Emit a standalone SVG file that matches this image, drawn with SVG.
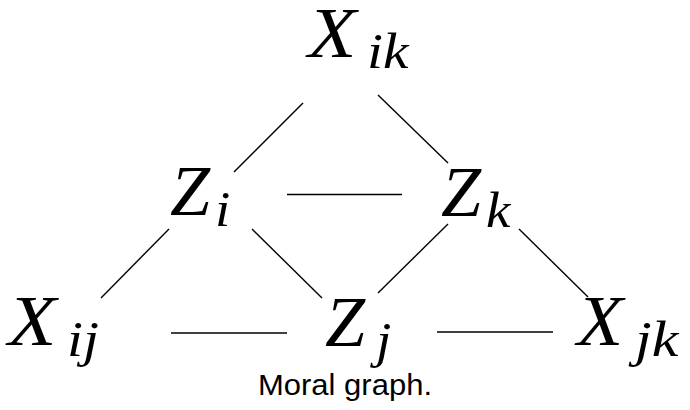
<svg xmlns="http://www.w3.org/2000/svg" width="690" height="410" viewBox="0 0 690 410">
<style>
.m{font-family:"Liberation Serif","Times New Roman",serif;font-style:italic;font-size:72px;fill:#000}
.s{font-family:"Liberation Serif","Times New Roman",serif;font-style:italic;font-size:50px;fill:#000}
.e{stroke:#000;stroke-width:1.4;fill:none}
.c{font-family:"Liberation Sans",Arial,sans-serif;font-size:29px;fill:#000}
</style>
<rect width="690" height="410" fill="#fff"/>
<g id="edges">
<line class="e" x1="303" y1="103" x2="234" y2="172"/>
<line class="e" x1="378" y1="95" x2="448" y2="163"/>
<line class="e" x1="287" y1="194.5" x2="402" y2="194.5"/>
<line class="e" x1="169" y1="229" x2="101" y2="298"/>
<line class="e" x1="252" y1="229" x2="322" y2="298"/>
<line class="e" x1="448" y1="224" x2="378" y2="293"/>
<line class="e" x1="519" y1="229" x2="588" y2="297"/>
<line class="e" x1="171" y1="333" x2="287" y2="333"/>
<line class="e" x1="437" y1="332" x2="553" y2="332"/>
</g>
<g id="Xik">
<text class="m" transform="translate(308,57) scale(1.1,1)">X</text>
<text class="s" transform="translate(367,68) scale(1.15,1)">ik</text>
</g>
<g id="Zi">
<text class="m" x="170" y="215">Z</text>
<text class="s" transform="translate(215,226) scale(1.1,1)">i</text>
</g>
<g id="Zk">
<text class="m" x="441" y="216">Z</text>
<text class="s" transform="translate(486,227) scale(1.1,1)">k</text>
</g>
<g id="Xij">
<text class="m" transform="translate(8,345) scale(1.1,1)">X</text>
<text class="s" transform="translate(67,356) scale(1.15,1)">ij</text>
</g>
<g id="Zj">
<text class="m" x="325" y="346">Z</text>
<text class="s" transform="translate(376,357) scale(1.1,1)">j</text>
</g>
<g id="Xjk">
<text class="m" transform="translate(577,345) scale(1.05,1)">X</text>
<text class="s" transform="translate(635,356) scale(1.2,1)">jk</text>
</g>
<text class="c" x="345" y="395" text-anchor="middle" textLength="174" lengthAdjust="spacingAndGlyphs">Moral graph.</text>
</svg>
